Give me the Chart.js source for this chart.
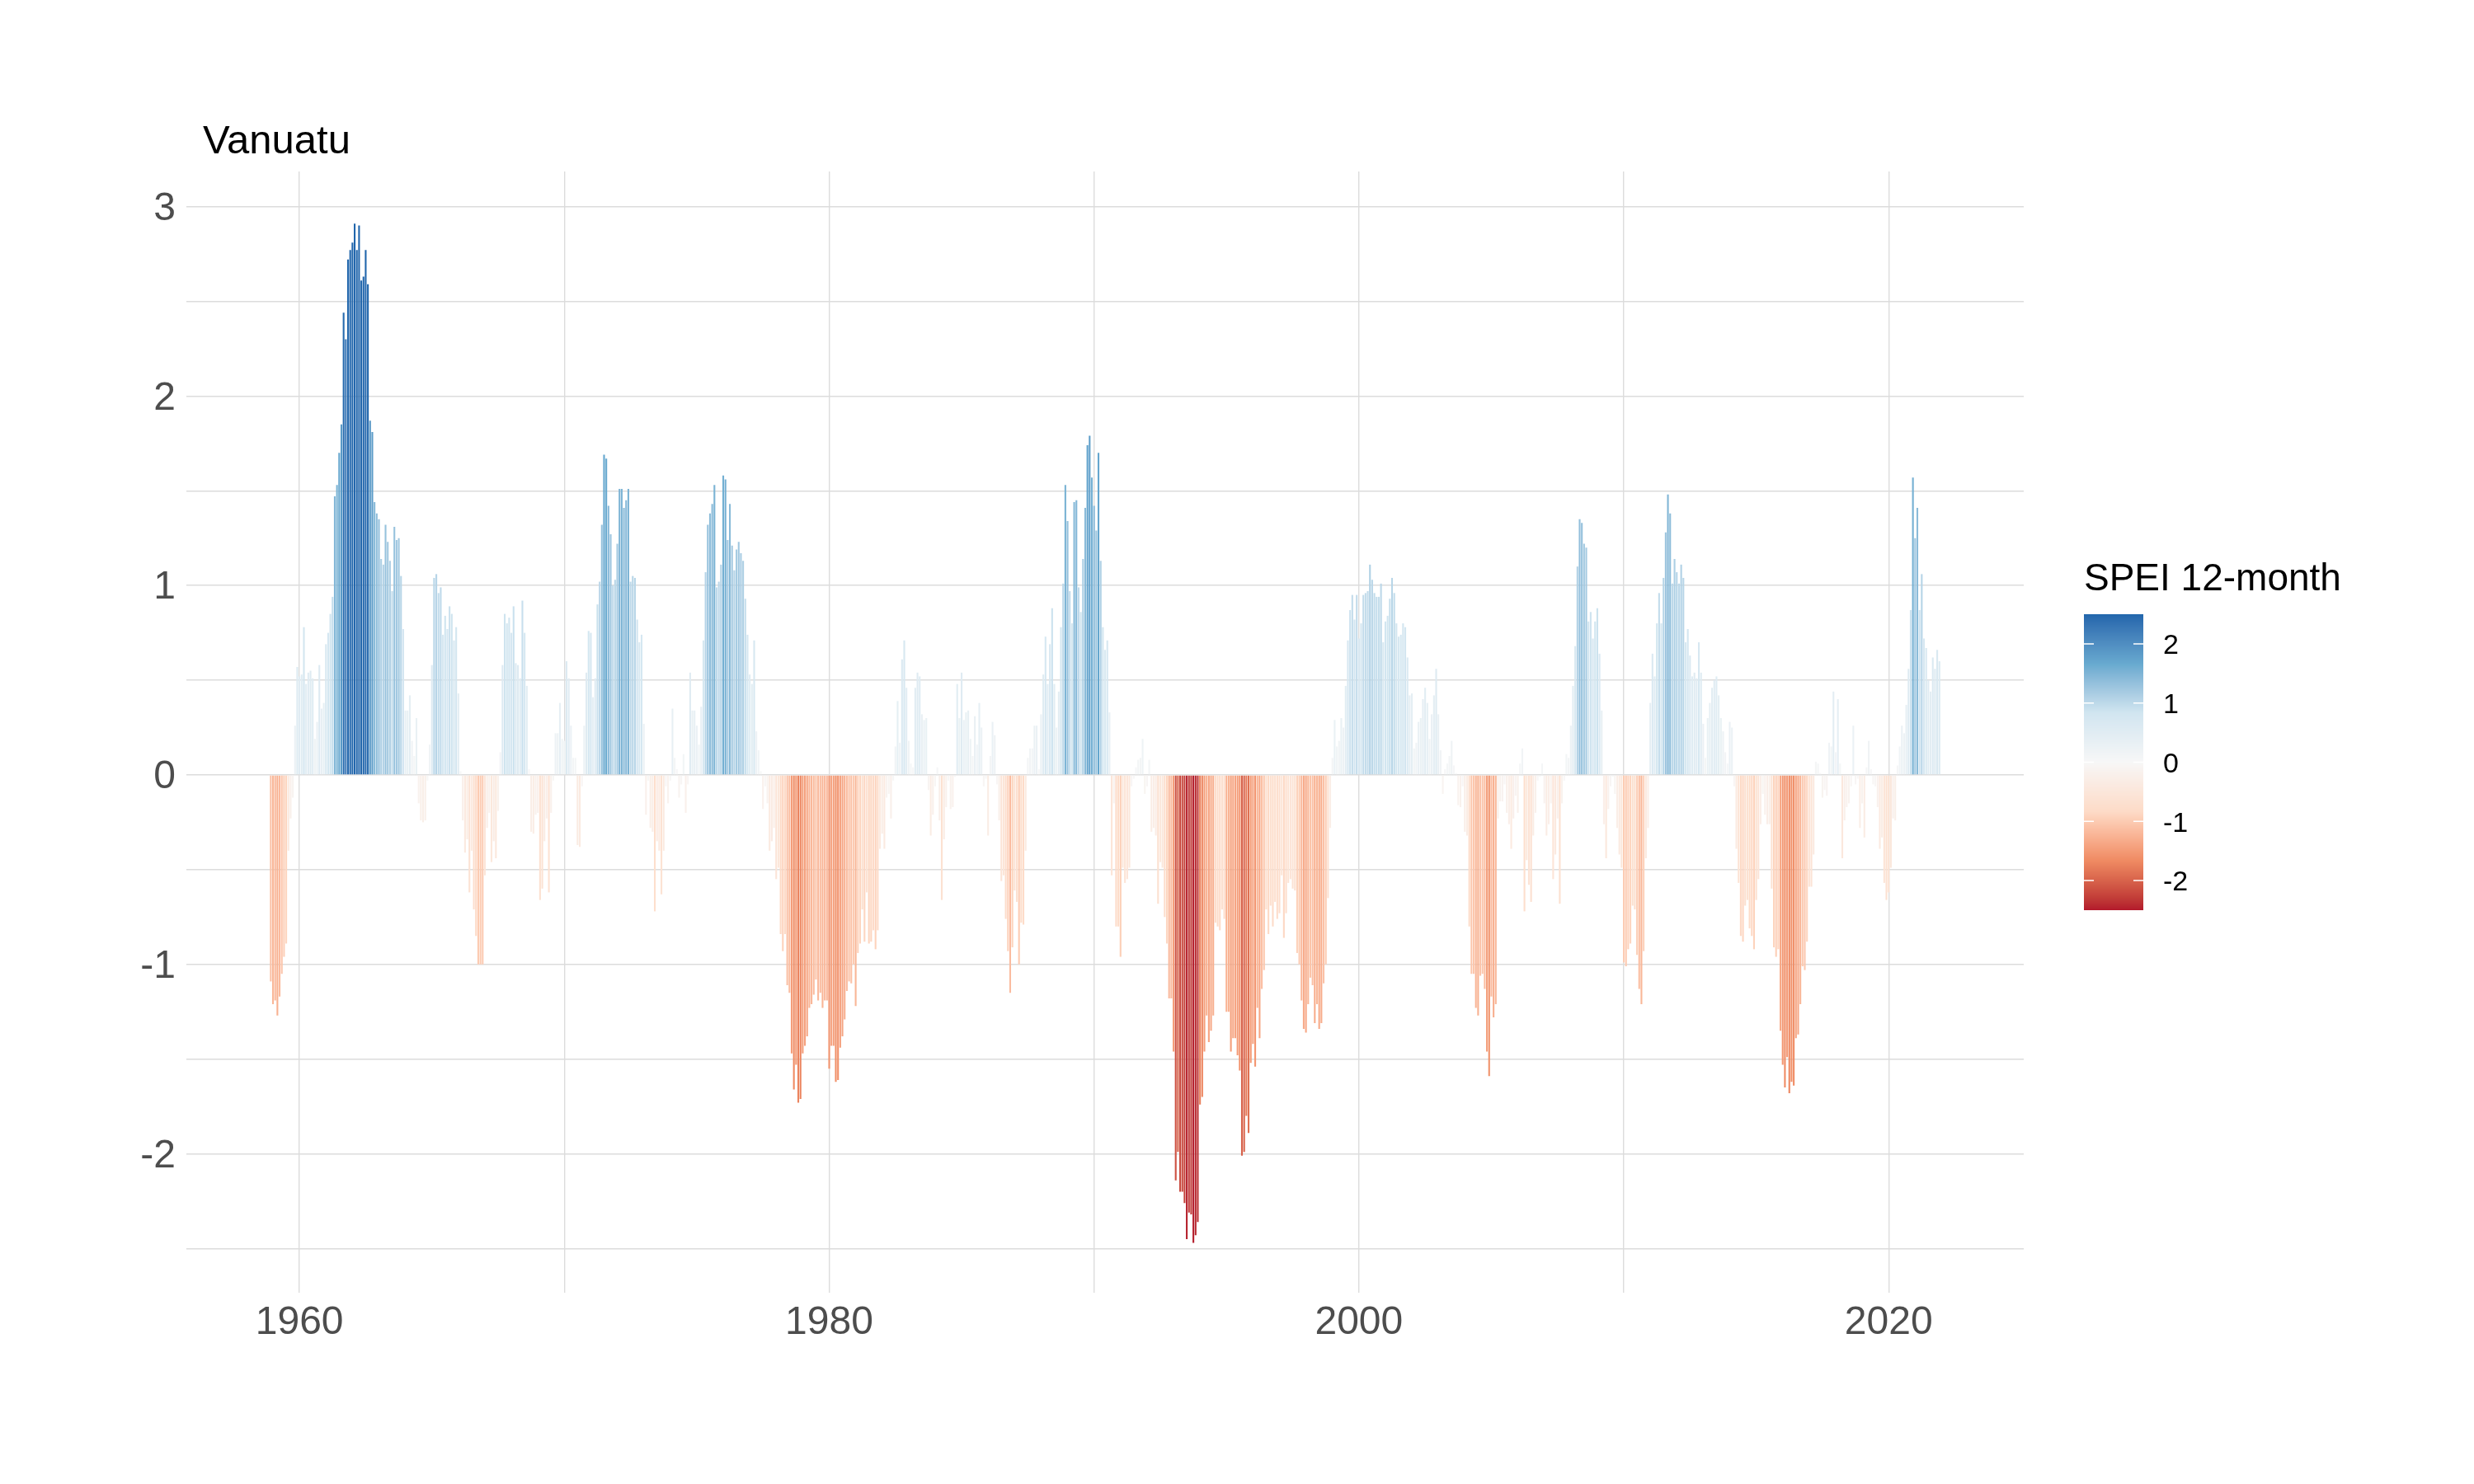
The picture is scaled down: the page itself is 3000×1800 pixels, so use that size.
<!DOCTYPE html>
<html>
<head>
<meta charset="utf-8">
<title>Vanuatu - SPEI 12-month</title>
<script src="https://cdn.jsdelivr.net/npm/chart.js@4.4.1/dist/chart.umd.min.js"></script>
<style>
    html, body { margin: 0; padding: 0; background: #ffffff; }
    canvas { display: block; }
</style>
</head>
<body>
<canvas id="speiChart" width="3000" height="1800"></canvas>
<script>
// Monthly SPEI 12-month values for Vanuatu.
// Every block holds consecutive months, starting at the month in its name.
const firstMonth = { year: 1958, month: 12 };

const spei_1958_12 = [
    -1.09, -1.21, -1.19, -1.27, -1.17, -1.05, -0.96, -0.89, -0.40, -0.23, -0.12,
    0.26, 0.57, 0.52, 0.53, 0.78, 0.48, 0.54, 0.55, 0.51, 0.19, 0.28, 0.58, 0.35, 0.38,
    0.69, 0.75, 0.85, 0.94, 1.47, 1.53, 1.70, 1.85, 2.44, 2.30, 2.72, 2.77, 2.81, 2.91,
    2.77, 2.90, 2.61, 2.63, 2.77, 2.59, 1.87, 1.81, 1.44, 1.38, 1.35, 1.14, 1.11, 1.32,
    1.23, 1.13, 0.97, 1.31, 1.24, 1.25, 1.05, 0.77, 0.34, 0.34, 0.42, 0.18, 0.10, 0.30,
    -0.15, -0.24, -0.25, -0.24, -0.03,
    0.16, 0.58, 1.04, 1.06, 0.96, 0.99, 0.74, 0.84, 0.77, 0.89, 0.85, 0.71, 0.78, 0.43,
    0.02, -0.24, -0.41, -0.34, -0.62, -0.40
];
const spei_1966_08 = [
    -0.71, -0.85, -1.00, -1.00, -1.00, -0.53, -0.28, -0.20, -0.46, -0.35, -0.44, -0.19,
    0.12, 0.58, 0.85, 0.80, 0.83, 0.75, 0.89, 0.59, 0.58, 0.51, 0.92, 0.75, 0.47, 0.03,
    -0.30, -0.31, -0.21, -0.20, -0.66, -0.60, -0.35, -0.23, -0.62, -0.20, -0.03,
    0.22, 0.22, 0.38, 0.19, 0.18, 0.60, 0.51, 0.26, 0.09, 0.09,
    -0.37, -0.38, -0.06,
    0.26, 0.54, 0.76, 0.75, 0.41, 0.51, 0.90, 1.02, 1.32, 1.69, 1.67, 1.42, 1.27, 1.00,
    1.03, 1.22, 1.51, 1.51, 1.41, 1.45, 1.51, 1.02, 1.05, 1.04, 0.82, 0.70, 0.74, 0.27,
    -0.21, -0.03, -0.28, -0.30, -0.72, -0.35, -0.40, -0.63, -0.40, -0.06, -0.15, -0.03,
    0.35, 0.09, 0.03, -0.12, -0.05, 0.11
];
const spei_1974_08 = [
    -0.20, -0.05,
    0.54, 0.34, 0.34, 0.26, 0.16, 0.36, 0.71, 1.07, 1.32, 1.38, 1.43, 1.53, 0.99, 1.02,
    1.11, 1.58, 1.56, 1.24, 1.43, 1.21, 1.08, 1.19, 1.23, 1.17, 1.13, 0.93, 0.74, 0.53,
    0.48, 0.71, 0.23, 0.13, 0.02,
    -0.18, -0.06, -0.15, -0.40, -0.35, -0.28, -0.55, -0.49, -0.84, -0.93, -0.84, -1.11,
    -1.15, -1.47, -1.66, -1.53, -1.73, -1.71, -1.47, -1.43, -1.38, -1.23, -1.21, -1.16,
    -1.08, -1.19, -1.15, -1.23, -1.19, -1.19, -1.55, -1.43, -1.43, -1.62, -1.61, -1.44,
    -1.38, -1.29, -1.14, -1.09, -1.10, -1.00, -1.22, -0.94, -0.89, -0.71, -0.88, -0.62,
    -0.89, -0.88, -0.82, -0.92, -0.82, -0.39, -0.31, -0.39, -0.12, -0.10, -0.23, -0.03,
    0.15
];
const spei_1982_08 = [
    0.39, 0.17, 0.61, 0.71, 0.46, 0.18, 0.06, 0.04, 0.46, 0.54, 0.52, 0.32, 0.29, 0.30,
    -0.08, -0.32, -0.21, -0.06,
    0.04,
    -0.24, -0.66, -0.34, -0.17, -0.03, -0.18, -0.17, -0.01,
    0.48, 0.30, 0.54, 0.29, 0.33, 0.34, 0.19, 0.10, 0.31, 0.16, 0.38, 0.25,
    -0.06, -0.02, -0.32,
    0.10, 0.28, 0.21,
    -0.05, -0.24, -0.56, -0.53, -0.76, -0.93, -1.15, -0.91, -0.61, -0.67, -1.00, -0.78,
    -0.79, -0.40,
    0.09, 0.14, 0.14, 0.26, 0.26, 0.03, 0.32, 0.53, 0.73, 0.48, 0.69, 0.88, 0.48, 0.25,
    0.44, 0.78, 1.01, 1.53, 1.34, 0.97, 0.80, 1.44, 1.45, 0.99, 0.86, 1.14, 1.41, 1.74,
    1.79, 1.57, 1.42, 1.29, 1.70, 1.13, 0.78, 0.66, 0.71
];
const spei_1990_08 = [
    0.33, -0.53, -0.15, -0.80, -0.80, -0.96, -0.49, -0.57, -0.55, -0.49, -0.06, -0.02,
    0.04, 0.08, 0.09, 0.19,
    -0.10, -0.06,
    0.08,
    -0.30, -0.28, -0.32, -0.68, -0.46, -0.49, -0.75, -0.89, -1.18, -1.18,
    -1.46, -2.14, -1.99, -2.20, -2.20, -2.26, -2.45, -2.31, -2.32, -2.47,
    -2.43, -2.36, -1.74, -1.70, -1.46, -1.27, -1.41, -1.35, -1.27, -0.78,
    -0.80, -0.82, -0.71, -0.76, -1.25, -1.25, -1.46, -1.39, -1.39, -1.48,
    -1.56, -2.01, -1.99, -1.80, -1.89, -1.52, -1.42, -1.54, -1.23, -1.39,
    -1.13, -1.03, -0.71, -0.84, -0.69, -0.80, -0.67, -0.76, -0.73, -0.53,
    -0.86, -0.73, -0.57, -0.55, -0.60, -0.61, -0.94, -1.00, -1.19, -1.34,
    -1.36, -1.21, -1.07, -1.11, -1.31, -1.21, -1.34
];
const spei_1998_08 = [
    -1.31, -1.10, -1.00, -0.65, -0.28, 0.09, 0.29, 0.15, 0.18, 0.30, 0.25, 0.47,
    0.71, 0.87, 0.95, 0.82, 0.95, 0.72, 0.80, 0.95, 0.96, 0.97, 1.11, 1.03,
    0.96, 0.94, 0.94, 1.01, 0.70, 0.81, 0.84, 0.93, 1.04, 0.96, 0.80, 0.73,
    0.74, 0.80, 0.78, 0.62, 0.42, 0.43, 0.14, 0.17, 0.28, 0.30, 0.40, 0.46,
    0.38, 0.19, 0.32, 0.42, 0.56, 0.32, 0.13, -0.10, 0.03, 0.06, 0.10, 0.18,
    0.05, 0.01, -0.16, -0.17, -0.06, -0.30, -0.32, -0.80, -1.05, -1.05, -1.23, -1.27,
    -1.06, -1.05, -1.13, -1.46, -1.59, -1.17, -1.28, -1.21, -0.23, -0.14, -0.14, -0.05,
    -0.20, -0.26, -0.39, -0.23, -0.11, -0.20, 0.06, 0.14, -0.72, -0.45, -0.58, -0.67
];
const spei_2006_08 = [
    -0.32, -0.20, -0.03, -0.01, 0.06, -0.15, -0.32, -0.26, -0.15, -0.55, -0.42, -0.23,
    -0.68, -0.15, -0.03, 0.11, 0.09, 0.26, 0.47, 0.68, 1.10, 1.35, 1.33, 1.22,
    1.20, 0.81, 0.86, 0.72, 0.81, 0.88, 0.64, 0.34, -0.26, -0.44, -0.18, -0.06,
    -0.01, -0.10, -0.28, -0.42, -0.49, -0.99, -1.01, -0.92, -0.89, -0.69, -0.71, -0.95,
    -1.13, -1.21, -0.93, -0.44, -0.28, 0.38, 0.64, 0.52, 0.80, 0.96, 0.80, 1.04,
    1.28, 1.48, 1.38, 1.01, 1.14, 1.07, 1.01, 1.11, 1.04, 0.70, 0.77, 0.63,
    0.52, 0.54, 0.51, 0.70, 0.54, 0.27, 0.09, 0.30, 0.38, 0.46, 0.50, 0.52,
    0.42, 0.30, 0.23, 0.12, 0.06, 0.28, 0.25, -0.06, -0.39, -0.57, -0.85, -0.88
];
const spei_2014_08 = [
    -0.69, -0.66, -0.81, -0.85, -0.92,
    -0.66, -0.55, -0.26, -0.10, -0.21, -0.26, -0.26, -0.60, -0.91, -0.96, -0.92, -1.35,
    -1.53, -1.65, -1.49, -1.68, -1.62, -1.64, -1.39, -1.37, -1.21, -1.01, -1.03, -0.88,
    -0.59, -0.59, -0.42, 0.07, 0.06, 0.01, -0.12, -0.08, -0.11, 0.17, 0.15, 0.44,
    0.12, 0.40, 0.06, -0.44, -0.24, -0.17, -0.15, -0.06, 0.26, -0.05, -0.02, -0.28,
    -0.15, -0.33, 0.04, 0.18, 0.03, -0.05, -0.06, -0.17, -0.39, -0.33, -0.57, -0.66,
    -0.62, -0.49, -0.23, -0.24, 0.05, 0.15, 0.26, 0.22, 0.37, 0.56, 0.87, 1.57,
    1.25, 1.41, 0.87, 1.06, 0.72, 0.67, 0.50, 0.44, 0.62, 0.56, 0.66, 0.60
];

const xBreaks = [1960, 1970, 1980, 1990, 2000, 2010, 2020];
const xLabels = ['1960', '', '1980', '', '2000', '', '2020'];
const yBreaks = [-2.5, -2, -1.5, -1, -0.5, 0, 0.5, 1, 1.5, 2, 2.5, 3];
const yLabels = ['', '-2', '', '-1', '', '0', '', '1', '', '2', '', '3'];
const legendBreaks = [2, 1, 0, -1, -2];
const legendLimits = [-2.5, 2.5];
const chartTitle = 'Vanuatu';
const legendTitle = 'SPEI 12-month';

// RdBu (7 classes), low = red, high = blue
const rdbu = ['#B2182B', '#EF8A62', '#FDDBC7', '#F7F7F7', '#D1E5F0', '#67A9CF', '#2166AC'];

const speiValues = [].concat(spei_1958_12, spei_1966_08, spei_1974_08, spei_1982_08,
    spei_1990_08, spei_1998_08, spei_2006_08, spei_2014_08);
// bar positions: decimal year of each month
const monthDates = speiValues.map((_, i) => firstMonth.year + (firstMonth.month - 1 + i) / 12);

// --- colour scale, interpolated in Lab like ggplot's distiller ---
function hexToLab(hex) {
    const lin = c => { c /= 255; return c <= 0.04045 ? c / 12.92 : Math.pow((c + 0.055) / 1.055, 2.4); };
    const r = lin(parseInt(hex.slice(1, 3), 16));
    const g = lin(parseInt(hex.slice(3, 5), 16));
    const b = lin(parseInt(hex.slice(5, 7), 16));
    const X = (0.4124 * r + 0.3576 * g + 0.1805 * b) / 0.95047;
    const Y = 0.2126 * r + 0.7152 * g + 0.0722 * b;
    const Z = (0.0193 * r + 0.1192 * g + 0.9505 * b) / 1.08883;
    const f = t => t > 0.008856 ? Math.cbrt(t) : 7.787 * t + 16 / 116;
    return [116 * f(Y) - 16, 500 * (f(X) - f(Y)), 200 * (f(Y) - f(Z))];
}

function labToRgb(L, a, bb) {
    const fy = (L + 16) / 116, fx = fy + a / 500, fz = fy - bb / 200;
    const inv = t => t > 0.206893 ? t * t * t : (t - 16 / 116) / 7.787;
    const X = inv(fx) * 0.95047, Y = inv(fy), Z = inv(fz) * 1.08883;
    const rl = 3.2406 * X - 1.5372 * Y - 0.4986 * Z;
    const gl = -0.9689 * X + 1.8758 * Y + 0.0415 * Z;
    const bl = 0.0557 * X - 0.2040 * Y + 1.0570 * Z;
    const gam = c => {
        c = c <= 0.0031308 ? 12.92 * c : 1.055 * Math.pow(c, 1 / 2.4) - 0.055;
        return Math.round(Math.min(1, Math.max(0, c)) * 255);
    };
    return `rgb(${gam(rl)}, ${gam(gl)}, ${gam(bl)})`;
}

const rdbuLab = rdbu.map(hexToLab);

function fillFor(v) {
    // values outside the limits are squished to the end colours
    const [lo, hi] = legendLimits;
    const t = (Math.min(hi, Math.max(lo, v)) - lo) / (hi - lo);
    const pos = t * (rdbuLab.length - 1);
    const i = Math.min(Math.floor(pos), rdbuLab.length - 2);
    const f = pos - i;
    const a = rdbuLab[i], b = rdbuLab[i + 1];
    return labToRgb(a[0] + (b[0] - a[0]) * f, a[1] + (b[1] - a[1]) * f, a[2] + (b[2] - a[2]) * f);
}

const FONT = '"Liberation Sans", Arial, sans-serif';
const gridColour = '#DCDCDC';

// title and colourbar legend, drawn on top of the chart
const titleAndLegend = {
    id: 'titleAndLegend',
    afterDraw(chart) {
        const c = chart.ctx;
        c.save();

        c.fillStyle = '#000000';
        c.textAlign = 'left';
        c.textBaseline = 'alphabetic';
        c.font = `49px ${FONT}`;
        c.fillText(chartTitle, 246, 186);

        // legend
        const barX = 2527, barY = 745, barW = 72, barH = 359;
        c.font = `46px ${FONT}`;
        c.fillText(legendTitle, barX, 716);

        const [lo, hi] = legendLimits;
        for (let y = 0; y < barH; y++) {
            const v = hi - (y + 0.5) / barH * (hi - lo);
            c.fillStyle = fillFor(v);
            c.fillRect(barX, barY + y, barW, 1);
        }

        c.strokeStyle = '#FFFFFF';
        c.lineWidth = 1.5;
        c.font = `34px ${FONT}`;
        c.textBaseline = 'middle';
        c.fillStyle = '#000000';
        legendBreaks.forEach(v => {
            const y = barY + (hi - v) / (hi - lo) * barH;
            c.beginPath();
            c.moveTo(barX, y); c.lineTo(barX + 12, y);
            c.moveTo(barX + barW - 12, y); c.lineTo(barX + barW, y);
            c.stroke();
            c.fillText(String(v), 2623, y + 3);
        });

        c.restore();
    }
};

const ctx = document.getElementById('speiChart').getContext('2d');

new Chart(ctx, {
    type: 'bar',
    data: {
        datasets: [{
            label: legendTitle,
            data: monthDates.map((x, i) => ({ x: x, y: speiValues[i] })),
            backgroundColor: speiValues.map(fillFor),
            borderWidth: 0,
            barThickness: 2.1,
            inflateAmount: 0
        }]
    },
    options: {
        responsive: false,
        animation: false,
        devicePixelRatio: 1,
        layout: { padding: { left: 0, right: 546, top: 208, bottom: 132 } },
        plugins: {
            legend: { display: false },
            title: { display: false },
            tooltip: { enabled: false }
        },
        scales: {
            x: {
                type: 'linear',
                bounds: 'data',
                offset: false,
                min: 1955.73,
                max: 2025.1,
                afterBuildTicks: s => { s.ticks = xBreaks.map(v => ({ value: v })); },
                afterFit: s => { s.height = 100; },
                grid: { color: gridColour, lineWidth: 1.4, drawTicks: false, offset: false },
                border: { display: false },
                ticks: {
                    autoSkip: false,
                    maxRotation: 0,
                    padding: 8,
                    color: '#4D4D4D',
                    font: { family: FONT, size: 48 },
                    callback: (v, i) => xLabels[i]
                }
            },
            y: {
                type: 'linear',
                bounds: 'data',
                min: -2.733,
                max: 3.185,
                afterBuildTicks: s => { s.ticks = yBreaks.map(v => ({ value: v })); },
                afterFit: s => { s.width = 226; },
                grid: { color: gridColour, lineWidth: 1.4, drawTicks: false },
                border: { display: false },
                ticks: {
                    padding: 13,
                    labelOffset: 3,
                    color: '#4D4D4D',
                    font: { family: FONT, size: 48 },
                    callback: (v, i) => yLabels[i]
                }
            }
        }
    },
    plugins: [titleAndLegend]
});
</script>
</body>
</html>
